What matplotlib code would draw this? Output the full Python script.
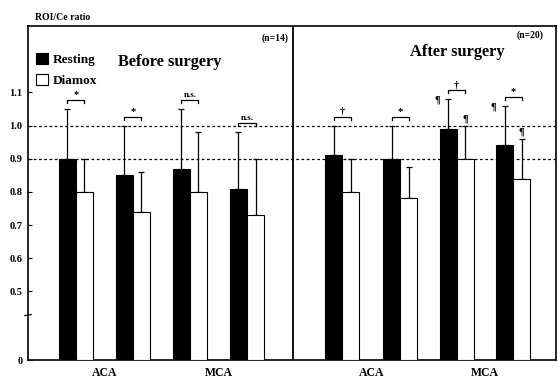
import numpy as np
import matplotlib
matplotlib.use("Agg")
import matplotlib.pyplot as plt
import matplotlib.transforms as mtransforms

# ---------------- data ----------------
region_labels = ["ACA", "MCA", "ACA", "MCA"]
panel_titles = ["Before surgery", "After surgery"]
panel_n = ["(n=14)", "(n=20)"]

before_rest = [0.90, 0.85, 0.87, 0.81]
before_rest_top = [1.05, 1.00, 1.05, 0.98]
before_diam = [0.80, 0.74, 0.80, 0.73]
before_diam_top = [0.90, 0.86, 0.98, 0.90]
before_sig = ["*", "*", "n.s.", "n.s."]

after_rest = [0.91, 0.90, 0.99, 0.94]
after_rest_top = [1.00, 1.00, 1.08, 1.06]
after_diam = [0.80, 0.78, 0.90, 0.84]
after_diam_top = [0.90, 0.875, 1.00, 0.96]
after_sig = ["\u2020", "*", "\u2020", "*"]
after_rest_mark = [False, False, True, True]
after_diam_mark = [False, False, True, True]

yticks = [0, 0.5, 0.6, 0.7, 0.8, 0.9, 1.0, 1.1]
ytick_labels = ["0", "0.5", "0.6", "0.7", "0.8", "0.9", "1.0", "1.1"]
ref_lines = [0.9, 1.0]

# --------------- layout ---------------
serif = ["Liberation Serif", "DejaVu Serif"]
plt.rcParams["font.family"] = serif
plt.rcParams["font.weight"] = "bold"

fig = plt.figure(figsize=(5.58, 3.79), dpi=100)
ax = fig.add_axes([28 / 558, 1 - 360 / 379, 528 / 558, 334 / 379])

k = 0.414
def fwd(y):
    y = np.asarray(y, dtype=float)
    return np.where(y >= 0.5, y, 0.5 - (0.5 - y) * k)
def inv(m):
    m = np.asarray(m, dtype=float)
    return np.where(m >= 0.5, m, 0.5 - (0.5 - m) / k)
ax.set_yscale("function", functions=(fwd, inv))

pairs_before = np.array([0.0, 1.0, 2.0, 3.0])
pairs_after = np.array([4.67, 5.69, 6.68, 7.67])
w = 0.30

rest = np.array(before_rest + after_rest)
rest_top = np.array(before_rest_top + after_rest_top)
diam = np.array(before_diam + after_diam)
diam_top = np.array(before_diam_top + after_diam_top)
sig = before_sig + after_sig
pairs = np.concatenate([pairs_before, pairs_after])
xr = pairs - w / 2
xd = pairs + w / 2

b1 = ax.bar(xr, rest, width=w, color="black", edgecolor="black", linewidth=0.8, zorder=3, label="Resting")
b2 = ax.bar(xd, diam, width=w, color="white", edgecolor="black", linewidth=0.8, zorder=3, label="Diamox")

# upper-only error bars
ax.errorbar(xr, rest, yerr=[np.zeros_like(rest), rest_top - rest], fmt="none",
            ecolor="black", elinewidth=0.9, capsize=2.5, capthick=0.9, zorder=2)
ax.errorbar(xd, diam, yerr=[np.zeros_like(diam), diam_top - diam], fmt="none",
            ecolor="black", elinewidth=0.9, capsize=2.5, capthick=0.9, zorder=2)

# significance brackets
for i in range(len(pairs)):
    h = max(rest_top[i], diam_top[i]) + 0.027
    ax.plot([xr[i], xr[i], xd[i], xd[i]], [h - 0.01, h, h, h - 0.01],
            color="black", linewidth=0.9, zorder=4)
    ax.text((xr[i] + xd[i]) / 2, h + 0.003, sig[i], ha="center", va="bottom",
            fontsize=6.5 if sig[i] == "n.s." else 7.5, fontweight="bold", zorder=4)

# ¶ marks (after surgery)
for i in range(4):
    j = i + 4
    if after_rest_mark[i]:
        ax.annotate("\u00b6", (xr[j], rest_top[j]), xytext=(-8, -1), textcoords="offset points",
                    ha="center", va="center", fontsize=7.5, fontweight="bold")
    if after_diam_mark[i]:
        ax.annotate("\u00b6", (xd[j], diam_top[j]), xytext=(0, 5), textcoords="offset points",
                    ha="center", va="center", fontsize=7.5, fontweight="bold")

# reference dashed lines
for v in ref_lines:
    ax.axhline(v, color="black", linewidth=0.9, dashes=(2.2, 2.0), zorder=1)

# divider between panels
divider = (pairs_before[-1] + pairs_after[0]) / 2 - 0.02
ax.axvline(divider, color="black", linewidth=1.3, zorder=5)

ax.set_xlim(-0.84, 8.42)
ax.set_ylim(0, 1.30)

ax.set_yticks(yticks)
ax.set_yticklabels(ytick_labels, fontsize=7.5, fontweight="bold")
ax.tick_params(axis="y", direction="in", length=3, width=0.8, pad=4)

region_pos = [(pairs_before[0] + pairs_before[1]) / 2, (pairs_before[2] + pairs_before[3]) / 2,
              (pairs_after[0] + pairs_after[1]) / 2, (pairs_after[2] + pairs_after[3]) / 2]
ax.set_xticks(region_pos)
ax.set_xticklabels(region_labels, fontsize=8.5, fontweight="bold")
ax.tick_params(axis="x", length=0, pad=5)

for s in ax.spines.values():
    s.set_linewidth(1.2)

# axis break marker
trans = mtransforms.blended_transform_factory(ax.transAxes, ax.transData)
yb = 0.327
ax.plot([-0.006, 0.006], [yb - 0.004, yb + 0.004], transform=trans, color="black",
        linewidth=0.9, clip_on=False, zorder=6)

# titles
ax.text(0.269, 0.892, panel_titles[0], transform=ax.transAxes, ha="center", va="center",
        fontsize=11.8, fontweight="bold")
ax.text(0.8125, 0.922, panel_titles[1], transform=ax.transAxes, ha="center", va="center",
        fontsize=11.8, fontweight="bold")
ax.text(0.468, 0.964, panel_n[0], transform=ax.transAxes, ha="center", va="center",
        fontsize=7, fontweight="bold")
ax.text(0.951, 0.973, panel_n[1], transform=ax.transAxes, ha="center", va="center",
        fontsize=7, fontweight="bold")

leg = ax.legend(handles=[b1, b2], loc="upper left", bbox_to_anchor=(0.016, 0.918),
                frameon=False, handlelength=0.85, handleheight=0.9,
                handletextpad=0.35, labelspacing=0.55, borderpad=0, borderaxespad=0,
                prop={"family": serif, "weight": "bold", "size": 9.5})

fig.text(35 / 558, 1 - 18 / 379, "ROI/Ce ratio", ha="left", va="center",
         fontsize=7, fontweight="bold")

fig.savefig("out.png", dpi=100)
